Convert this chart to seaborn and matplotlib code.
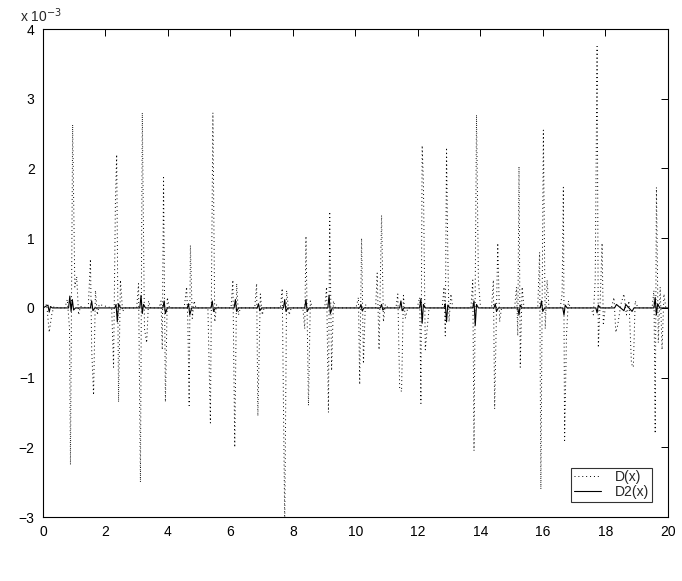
import seaborn as sns
import pandas as pd
from matplotlib import pyplot as plt

# values, y in units of 1e-3
d_x = [0.0, 0.12, 0.2, 0.28, 0.35, 0.5,
       0.7, 0.78, 0.85, 0.88, 0.95, 1.02, 1.08, 1.14, 1.2,
       1.45, 1.52, 1.56, 1.62, 1.68, 1.74, 1.8,
       2.2, 2.26, 2.32, 2.36, 2.42, 2.48, 2.55, 2.62,
       3.0, 3.06, 3.12, 3.18, 3.25, 3.32, 3.38, 3.45,
       3.72, 3.78, 3.82, 3.86, 3.92, 3.98, 4.05,
       4.52, 4.6, 4.64, 4.68, 4.72, 4.78, 4.84, 4.9,
       5.28, 5.36, 5.44, 5.5, 5.56, 5.62,
       6.02, 6.08, 6.14, 6.2, 6.26, 6.32,
       6.78, 6.84, 6.88, 6.96, 7.02, 7.08,
       7.6, 7.66, 7.74, 7.8, 7.88, 7.95,
       8.32, 8.38, 8.42, 8.5, 8.56, 8.62,
       9.02, 9.08, 9.14, 9.18, 9.24, 9.3, 9.36,
       10.02, 10.1, 10.14, 10.2, 10.26, 10.32, 10.4,
       10.65, 10.7, 10.76, 10.84, 10.9, 10.96, 11.05,
       11.3, 11.36, 11.42, 11.48, 11.54, 11.6, 11.68,
       11.98, 12.06, 12.1, 12.14, 12.18, 12.24, 12.3, 12.36,
       12.78, 12.84, 12.88, 12.92, 12.96, 13.0, 13.06, 13.12,
       13.7, 13.76, 13.8, 13.88, 13.94, 14.0, 14.06,
       14.36, 14.42, 14.46, 14.56, 14.62, 14.68,
       15.1, 15.16, 15.2, 15.24, 15.28, 15.34, 15.4,
       15.84, 15.9, 15.94, 16.02, 16.08, 16.14, 16.2,
       16.56, 16.62, 16.66, 16.7, 16.76, 16.82, 16.88,
       17.55, 17.62, 17.68, 17.74, 17.78, 17.84, 17.9, 17.94, 18.0,
       18.2, 18.28, 18.34, 18.4, 18.5, 18.6, 18.68, 18.76, 18.84, 18.9, 18.96, 19.05,
       19.5, 19.56, 19.6, 19.64, 19.7, 19.76, 19.82, 19.88, 19.94, 20.0]
d_y = [0.0, 0.05, -0.35, -0.1, 0.02, 0.0,
       0.0, 0.12, -0.3, -2.25, 2.63, 0.3, 0.45, -0.1, 0.02,
       0.0, 0.7, -0.6, -1.25, 0.25, -0.1, 0.05,
       0.0, -0.85, 1.55, 2.2, -1.35, 0.4, -0.05, 0.0,
       0.0, 0.35, -2.5, 2.8, -0.3, -0.5, 0.1, 0.0,
       0.0, 0.1, -0.6, 1.87, -1.35, 0.15, 0.0,
       0.0, 0.3, -0.25, -1.4, 0.9, -0.15, 0.1, 0.0,
       0.0, -1.65, 2.8, -0.2, 0.05, 0.0,
       0.0, 0.4, -2.0, 0.35, -0.1, 0.0,
       0.0, 0.35, -1.55, 0.2, -0.1, 0.0,
       0.0, 0.28, -3.1, 0.25, -0.1, 0.0,
       0.0, -0.3, 1.03, -1.4, 0.1, 0.0,
       0.0, 0.3, -1.5, 1.38, -0.9, 0.1, 0.0,
       0.0, 0.15, -1.1, 1.0, -0.8, 0.05, 0.0,
       0.0, 0.5, -0.6, 1.33, -0.2, 0.05, 0.0,
       0.0, 0.2, -1.15, -1.2, 0.18, -0.15, 0.0,
       0.0, 0.15, -1.37, 2.33, 1.8, -0.6, -0.3, 0.0,
       0.0, 0.3, -0.4, 2.3, 0.8, -0.2, 0.2, 0.0,
       0.0, 0.4, -2.05, 2.77, 0.4, 0.05, 0.0,
       0.0, 0.4, -1.45, 0.93, -0.2, 0.0,
       0.0, 0.3, -0.4, 2.03, -0.85, 0.3, 0.0,
       0.0, 0.8, -2.6, 2.55, -0.3, 0.4, 0.0,
       0.0, 0.2, 1.73, -1.9, -0.4, 0.1, 0.0,
       0.0, -0.1, 0.4, 3.75, -0.57, 0.1, 0.93, -0.25, 0.0,
       0.0, 0.15, -0.35, -0.25, 0.05, 0.2, -0.1, 0.1, -0.8, -0.85, 0.1, 0.0,
       0.0, 0.25, -1.8, 1.73, -0.5, 0.3, -0.6, 0.2, 0.0, 0.0]

d2_x = [0.0, 0.16, 0.2, 0.24, 0.3,
        0.82, 0.86, 0.9, 0.94, 0.98, 1.04,
        1.52, 1.56, 1.6, 1.66,
        2.3, 2.34, 2.38, 2.42, 2.48,
        3.1, 3.14, 3.18, 3.22, 3.28,
        3.84, 3.88, 3.92, 3.98,
        4.62, 4.66, 4.7, 4.76,
        5.38, 5.42, 5.46, 5.52,
        6.12, 6.16, 6.2, 6.26,
        6.86, 6.9, 6.94, 7.0,
        7.7, 7.74, 7.78, 7.84,
        8.38, 8.42, 8.46, 8.52,
        9.12, 9.16, 9.2, 9.26,
        10.14, 10.18, 10.22, 10.28,
        10.8, 10.84, 10.88, 10.94,
        11.42, 11.46, 11.5, 11.56,
        12.06, 12.1, 12.14, 12.18, 12.24,
        12.84, 12.88, 12.92, 12.96, 13.02,
        13.76, 13.8, 13.84, 13.88, 13.94,
        14.44, 14.48, 14.52, 14.58,
        15.2, 15.24, 15.28, 15.34,
        15.92, 15.96, 16.0, 16.06,
        16.64, 16.68, 16.72, 16.78,
        17.7, 17.74, 17.78, 17.84,
        18.3, 18.36, 18.6, 18.66, 18.86, 18.92,
        19.56, 19.6, 19.64, 19.68, 19.74, 20.0]
d2_y = [0.0, 0.04, -0.06, 0.02, 0.0,
        0.0, 0.17, -0.05, 0.12, -0.03, 0.0,
        0.0, 0.1, -0.04, 0.0,
        0.0, 0.05, -0.2, 0.06, 0.0,
        0.0, 0.18, -0.08, 0.05, 0.0,
        0.0, 0.1, -0.08, 0.0,
        0.0, 0.06, -0.1, 0.0,
        0.0, 0.1, -0.05, 0.0,
        0.0, 0.12, -0.05, 0.0,
        0.0, 0.06, -0.04, 0.0,
        0.0, 0.12, -0.05, 0.0,
        0.0, 0.12, -0.05, 0.0,
        0.0, 0.18, -0.08, 0.0,
        0.0, 0.05, -0.04, 0.0,
        0.0, 0.05, -0.03, 0.0,
        0.0, 0.1, -0.04, 0.0,
        0.0, 0.13, -0.22, 0.05, 0.0,
        0.0, 0.06, -0.2, 0.04, 0.0,
        0.0, 0.1, -0.25, 0.05, 0.0,
        0.0, 0.06, -0.05, 0.0,
        0.0, -0.1, 0.04, 0.0,
        0.0, 0.1, -0.05, 0.0,
        0.0, -0.1, 0.04, 0.0,
        0.0, -0.07, 0.04, 0.0,
        0.0, 0.05, -0.04, 0.05, -0.05, 0.0,
        0.0, 0.15, -0.1, 0.06, 0.0, 0.0]

x_ticks = list(range(0, 21, 2))
y_ticks = list(range(-3, 5))

sns.set_theme(style="white")
plt.rcParams.update({
    "font.family": ["Liberation Sans", "DejaVu Sans"],
    "xtick.direction": "in", "ytick.direction": "in",
    "xtick.top": True, "ytick.right": True,
    "xtick.major.size": 5, "ytick.major.size": 5,
    "xtick.major.width": 0.7, "ytick.major.width": 0.7,
    "axes.edgecolor": "black", "axes.linewidth": 0.8,
})

fig = plt.figure(figsize=(6.82, 5.81), dpi=100)
ax = fig.add_axes([0.063, 0.110, 0.916, 0.840])

df1 = pd.DataFrame({"x": d_x, "y": d_y})
df2 = pd.DataFrame({"x": d2_x, "y": d2_y})
sns.lineplot(data=df1, x="x", y="y", ax=ax, color="black", linestyle=(0, (1, 3)),
             linewidth=0.7, estimator=None, label="D(x)")
sns.lineplot(data=df2, x="x", y="y", ax=ax, color="black", linestyle="-",
             linewidth=0.8, estimator=None, label="D2(x)")

ax.set_xlim(0, 20)
ax.set_ylim(-3, 4)
ax.set_xticks(x_ticks)
ax.set_yticks(y_ticks)
ax.tick_params(labelsize=10, colors="black", pad=6)
ax.set_xlabel("")
ax.set_ylabel("")
ax.text(-0.037, 1.008, r"x 10$^{-3}$", transform=ax.transAxes, fontsize=10,
        ha="left", va="bottom")

leg = ax.legend(loc="lower right", frameon=True, fancybox=False, fontsize=10,
                handlelength=2.0, borderpad=0.2, labelspacing=0.05,
                borderaxespad=1.1, handletextpad=1.0)
leg.get_frame().set_edgecolor("black")
leg.get_frame().set_linewidth(0.8)

fig.savefig("out.png", dpi=100)
